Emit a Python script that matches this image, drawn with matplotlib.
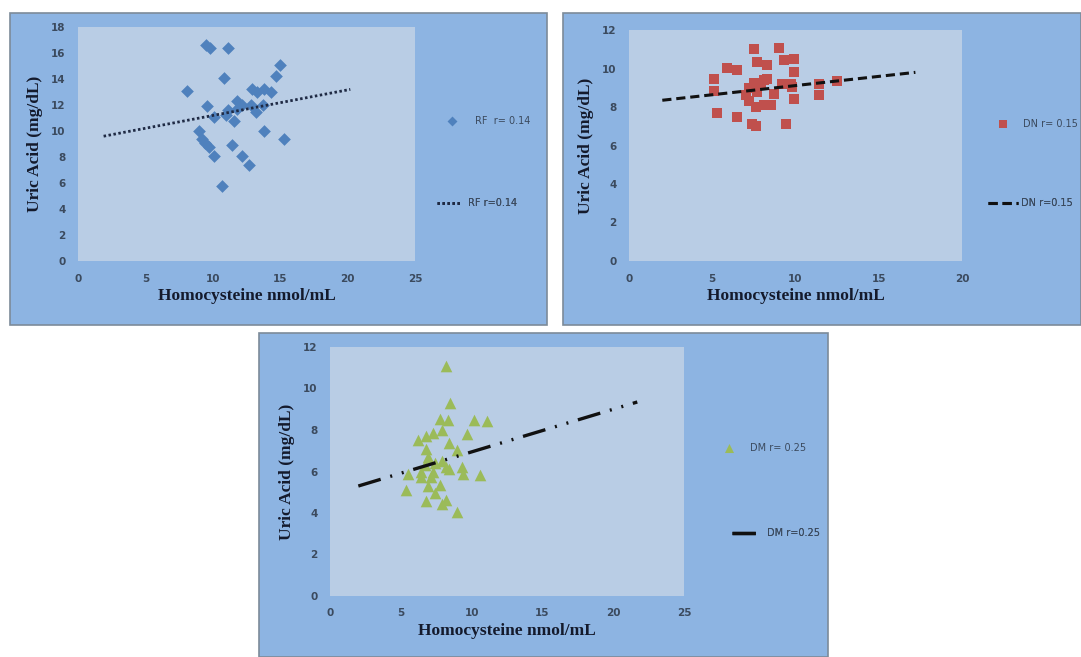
import matplotlib.pyplot as plt
from matplotlib.patches import Rectangle

# --- data ---
rf_hcy = [8.1, 9.5, 9.8, 11.1, 10.8, 15.0, 14.7, 9.6, 10.1, 11.1, 11.0, 11.6, 11.8,
          12.2, 11.8, 12.9, 13.3, 13.8, 14.3, 12.8, 13.2, 13.7, 13.8, 15.3, 9.0,
          9.2, 9.4, 9.7, 10.1, 11.4, 12.2, 12.7, 10.7]
rf_ua = [13.1, 16.6, 16.4, 16.4, 14.1, 15.1, 14.2, 11.9, 11.1, 11.6, 11.2, 10.8, 12.3,
         12.0, 11.7, 13.2, 13.0, 13.2, 13.0, 12.0, 11.5, 12.0, 10.0, 9.4, 10.0,
         9.4, 9.1, 8.8, 8.1, 8.9, 8.1, 7.4, 5.8]
rf_trend_x = [1.9, 20.2]
rf_trend_y = [9.6, 13.2]

dn_hcy = [7.5, 9.0, 7.7, 8.3, 9.3, 9.9, 5.9, 6.5, 9.9, 5.1, 5.1, 5.3, 6.5, 7.4,
          7.6, 9.4, 8.1, 8.3, 7.5, 7.2, 7.0, 7.2, 7.6, 8.1, 8.5, 8.7, 9.2, 9.7,
          9.8, 9.9, 11.4, 11.4, 12.5, 7.7, 7.9]
dn_ua = [11.0, 11.05, 10.35, 10.2, 10.45, 10.5, 10.05, 9.9, 9.8, 9.45, 8.85, 7.7, 7.5, 7.1,
         7.0, 7.1, 9.4, 9.45, 9.25, 9.0, 8.6, 8.3, 8.0, 8.1, 8.1, 8.7, 9.2, 9.2,
         9.05, 8.4, 9.2, 8.6, 9.35, 8.8, 9.15]
dn_trend_x = [2.0, 17.2]
dn_trend_y = [8.35, 9.8]

dm_hcy = [8.2, 8.5, 7.8, 8.3, 10.2, 11.1, 9.7, 6.2, 6.8, 7.3, 7.9, 8.4, 9.0, 6.8,
          6.9, 7.4, 6.7, 7.9, 8.4, 9.3, 9.4, 10.6, 5.5, 6.4, 7.1, 5.4, 6.9, 7.8,
          7.4, 8.2, 6.8, 7.9, 9.0, 6.4, 7.3, 8.2]
dm_ua = [11.1, 9.3, 8.55, 8.5, 8.5, 8.45, 7.8, 7.5, 7.7, 7.85, 8.0, 7.35, 7.05, 7.1,
         6.7, 6.4, 6.3, 6.5, 6.1, 6.2, 5.9, 5.85, 5.9, 5.75, 5.75, 5.1, 5.3, 5.35,
         4.95, 4.65, 4.6, 4.45, 4.05, 6.0, 6.0, 6.2]
dm_trend_x = [2.0, 21.7]
dm_trend_y = [5.3, 9.35]

W, H = 1081, 657
FRAME = '#8db4e2'
PLOT_BG = '#b9cde5'
TICK_COL = '#3b4a5e'
LABEL_COL = '#141a2c'
LEG_FS = 7
FS_PX = LEG_FS * 100 / 72

fig = plt.figure(figsize=(W / 100, H / 100), dpi=100)
fig.patch.set_facecolor('white')


def px_box(x0, y0, x1, y1):
    # pixel box (top-left origin) -> figure fraction rect
    return [x0 / W, 1 - y1 / H, (x1 - x0) / W, (y1 - y0) / H]


def small_legend(ax, handle, label, x_px, y_px, hlen, tpad, mscale=1.0):
    leg = ax.legend([handle], [label], loc='center left',
                    bbox_to_anchor=(x_px / W, 1 - y_px / H),
                    bbox_transform=fig.transFigure, frameon=False, fontsize=LEG_FS,
                    borderpad=0, borderaxespad=0, handlelength=hlen,
                    handletextpad=tpad, markerscale=mscale, labelcolor=TICK_COL)
    ax.add_artist(leg)


def panel(frame, area, xmax, ymax, ystep, xs, ys, tx, ty, marker, msize, color,
          ls, lcolor, lw, lab1, lab2, mleg, lleg):
    l, b, w, h = px_box(*frame)
    fig.patches.append(Rectangle((l, b), w, h, transform=fig.transFigure,
                                 facecolor=FRAME, edgecolor='#7d8b99', lw=1.2, zorder=-5))
    ax = fig.add_axes(px_box(*area))
    ax.set_facecolor(PLOT_BG)
    for s in ax.spines.values():
        s.set_visible(False)
    sc = ax.scatter(xs, ys, marker=marker, s=msize, color=color, linewidths=0, zorder=3)
    ln, = ax.plot(tx, ty, color=lcolor, lw=lw, linestyle=ls, zorder=4)
    ax.set_xlim(0, xmax)
    ax.set_ylim(0, ymax)
    ax.set_xticks(range(0, xmax + 1, 5))
    ax.set_yticks(range(0, ymax + 1, ystep))
    ax.tick_params(length=0, labelsize=7.5, labelcolor=TICK_COL, pad=9)
    for t in ax.get_xticklabels() + ax.get_yticklabels():
        t.set_fontweight('bold')
    ax.set_xlabel('Homocysteine nmol/mL', family='Liberation Serif', fontsize=12.5,
                  fontweight='bold', color=LABEL_COL, labelpad=3)
    ax.set_ylabel('Uric Acid (mg/dL)', family='Liberation Serif', fontsize=12.5,
                  fontweight='bold', color=LABEL_COL, labelpad=6)

    # marker entry: (marker centre x, y, gap from centre to text)
    mx, my, mgap = mleg
    small_legend(ax, sc, lab1, mx - FS_PX / 2, my, 1.0, (mgap - FS_PX / 2) / FS_PX, 0.78)
    # line entry: (line start x, line end x, y, text x)
    x0, x1, ly, txt = lleg
    small_legend(ax, ln, lab2, x0, ly, (x1 - x0) / FS_PX, (txt - x1) / FS_PX)
    return ax


panel((10, 13, 547, 325), (78, 27, 415, 261), 25, 18, 2, rf_hcy, rf_ua,
      rf_trend_x, rf_trend_y, 'D', 42, '#4f81bd', (0, (0.9, 0.9)), '#1f2a44', 2.0,
      'RF  r= 0.14', 'RF r=0.14', (452, 121, 23), (437, 460, 203, 468))

panel((563, 13, 1081, 325), (629, 30, 962, 261), 20, 12, 2, dn_hcy, dn_ua,
      dn_trend_x, dn_trend_y, 's', 60, '#c0504d', (0, (3, 1.6)), '#111111', 2.2,
      'DN r= 0.15', 'DN r=0.15', (1003, 124, 20), (988, 1018, 203, 1021))

panel((259, 333, 828, 657), (330, 347, 684, 596), 25, 12, 2, dm_hcy, dm_ua,
      dm_trend_x, dm_trend_y, '^', 70, '#9bbb59', (0, (7, 3, 0.6, 3, 0.6, 3)),
      '#111111', 2.4, 'DM r= 0.25', 'DM r=0.25', (729, 448, 21), (732, 760, 533, 767))

fig.savefig('out.png', dpi=100)
